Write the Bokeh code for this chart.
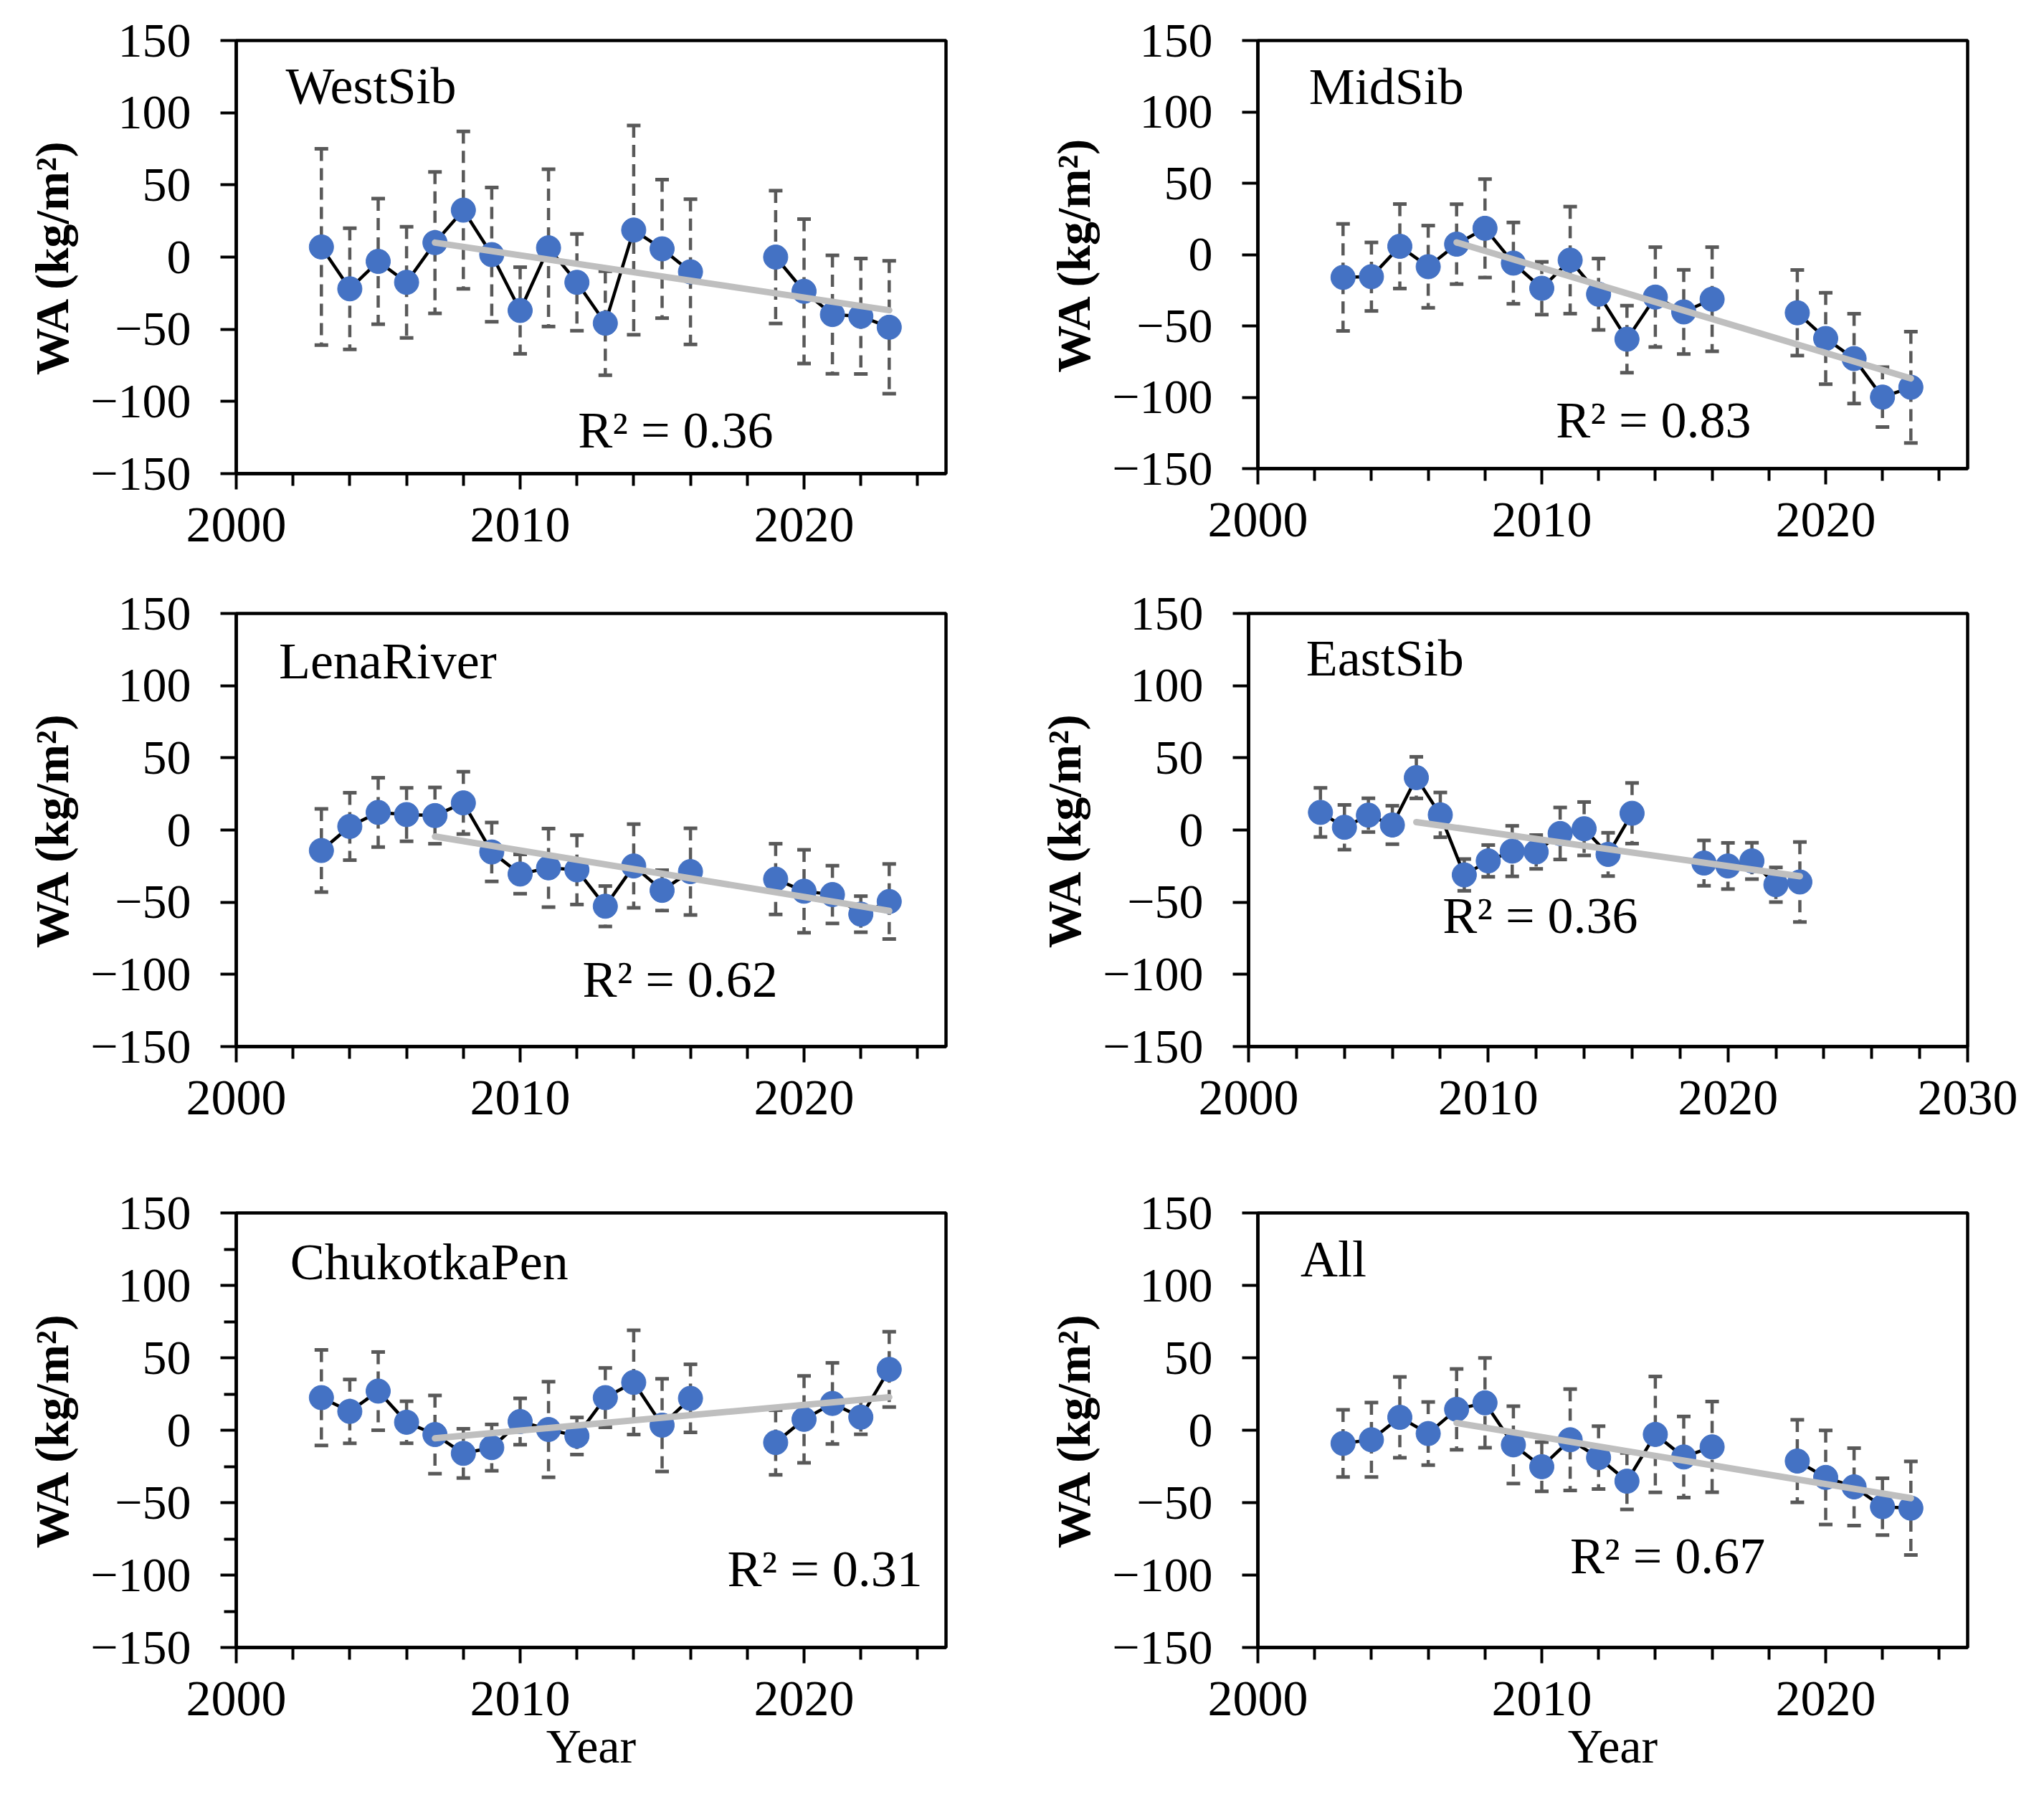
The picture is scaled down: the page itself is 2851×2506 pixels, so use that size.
import numpy as np
from bokeh.plotting import figure
from bokeh.models import Range1d, FixedTicker, Label
from bokeh.layouts import column, row
from bokeh.embed import file_html
from bokeh.resources import INLINE

# ---------------- data ----------------
years = [2003, 2004, 2005, 2006, 2007, 2008, 2009, 2010, 2011, 2012, 2013,
         2014, 2015, 2016, 2019, 2020, 2021, 2022, 2023]
trend_years = [2007, 2023]

westsib_vals = [7, -22, -3, -17.5, 10, 32.5, 1.7, -37, 6.4, -17.5, -45.8,
                18.7, 5.7, -10.2, 0, -23.7, -39.8, -41, -48.6]
westsib_errs = [68, 42, 43.5, 38.5, 49, 54.5, 46.5, 30, 54.5, 33.5, 36,
                72.5, 48, 50.3, 46, 50, 41, 40, 46]
westsib_trend = [10, -36.8]

midsib_vals = [-16, -15.5, 5.8, -8.5, 7.3, 18.4, -6, -23.6, -3.9, -27.8, -59.3,
               -29.8, -40.2, -31.3, -40.8, -58.8, -72.9, -99.9, -93]
midsib_errs = [37.5, 24, 29.6, 28.8, 28, 34.5, 28.5, 18.5, 37.5, 25, 23.5,
               35, 29.5, 36.5, 30, 32, 31.5, 21, 39]
midsib_trend = [8.5, -86.8]

lena_vals = [-14.2, 2.5, 12.2, 10.7, 10, 18.8, -15.2, -30.5, -26.2, -27.6, -52.8,
             -24.9, -41.8, -28.8, -34, -42.4, -44.7, -58.3, -49.5]
lena_errs = [28.8, 23.3, 24, 18.5, 19.5, 21.6, 20.4, 13.6, 27.2, 24, 14,
             29, 14, 30, 24.5, 28.7, 20, 12.5, 26]
lena_trend = [-4.5, -56]

eastsib_vals = [12.2, 1.9, 10.3, 3.5, 36.3, 10.5, -31.1, -21.4, -14.6, -15.2, -2.4,
                0.9, -16.9, 11.6, -22.9, -24.9, -21.4, -37.9, -36]
eastsib_errs = [17, 15.5, 11.7, 13.3, 14.4, 15.5, 11, 11, 17.5, 11.7, 18,
                18.5, 15, 21, 15.7, 16, 12.6, 12, 27.7]
eastsib_trend = [5.5, -32]

chukotka_vals = [22.5, 13, 27, 5.5, -3, -16, -12, 6, 0.5, -4, 22.5,
                 33, 3.5, 22, -8.5, 7.5, 18.5, 9, 42]
chukotka_errs = [33, 22, 27, 14.5, 27, 17, 16, 16, 33, 12.8, 20.5,
                 36, 32, 23.5, 22.3, 30, 28, 11.8, 26]
chukotka_trend = [-5.6, 22.8]

all_vals = [-9.1, -6.6, 8.9, -2.3, 14.4, 18.9, -10.1, -25.2, -6.6, -18.9, -35.2,
            -2.9, -18.5, -11.5, -21.3, -32.6, -39.1, -52.8, -53.8]
all_errs = [23.2, 25.7, 27.9, 21.8, 27.9, 31, 26.7, 17, 35, 21.7, 19.5,
            40, 28, 31.3, 28.5, 32.5, 26.7, 19.6, 32.3]
all_trend = [5, -46.9]

panel_names = ["WestSib", "MidSib", "LenaRiver", "EastSib", "ChukotkaPen", "All"]
r2_texts = ["R\u00b2 = 0.36", "R\u00b2 = 0.83", "R\u00b2 = 0.62",
            "R\u00b2 = 0.36", "R\u00b2 = 0.31", "R\u00b2 = 0.67"]
y_ticks = [-150, -100, -50, 0, 50, 100, 150]
y_minor_ticks = [-125, -75, -25, 25, 75, 125]
y_label = "WA (kg/m\u00b2)"
x_label = "Year"

# ---------------- style ----------------
FONT = "Liberation Serif"
BLUE = "#4472C4"
ERR = "#595959"
TREND = "#BFBFBF"


def make_panel(name, vals, errs, trend, r2, r2_pos, title_pos, geom,
               xmax=2025, with_xlabel=False, minor_y=False):
    bl, fw, br, bt, fh, bb = geom
    p = figure(frame_width=fw, frame_height=fh,
               min_border_left=bl, min_border_right=br,
               min_border_top=bt, min_border_bottom=bb,
               x_range=Range1d(2000, xmax), y_range=Range1d(-150, 150),
               output_backend="svg", toolbar_location=None, tools="")
    p.grid.visible = False
    p.background_fill_color = "white"
    p.border_fill_color = "white"
    p.outline_line_color = "black"
    p.outline_line_width = 4.5
    p.outline_line_alpha = 1.0

    yrs = np.array(years, dtype=float)
    v = np.array(vals, dtype=float)
    e = np.array(errs, dtype=float)

    # error bars
    p.segment(x0=yrs, y0=v + e, x1=yrs, y1=v - e, line_color=ERR,
              line_width=4.5, line_dash="17 10")
    p.scatter(x=np.r_[yrs, yrs], y=np.r_[v + e, v - e], marker="dash",
              size=19, line_color=ERR, line_width=5)

    # connecting line (broken at the gap in years)
    breaks = np.where(np.diff(yrs) > 1)[0] + 1
    xs = [list(a) for a in np.split(yrs, breaks)]
    ys = [list(b) for b in np.split(v, breaks)]
    p.multi_line(xs=xs, ys=ys, line_color="black", line_width=4.5)

    # markers
    p.scatter(yrs, v, size=34, fill_color=BLUE, line_color=BLUE)

    # trend line
    p.line(trend_years, trend, line_color=TREND, line_width=9, line_cap="round")

    # texts
    p.add_layout(Label(x=title_pos[0], y=title_pos[1], text=name,
                       text_font=FONT, text_font_size="72px",
                       text_baseline="alphabetic", text_align="left",
                       text_color="black"))
    p.add_layout(Label(x=r2_pos[0], y=r2_pos[1], text=r2,
                       text_font=FONT, text_font_size="72px",
                       text_baseline="alphabetic", text_align="left",
                       text_color="black"))

    # x axis
    majors = list(range(2000, xmax + 1, 10))
    minors = [t for t in range(2002, xmax, 2) if t not in majors]
    xa = p.xaxis[0]
    xa.ticker = FixedTicker(ticks=majors, minor_ticks=minors)
    xa.major_label_overrides = {t: str(t) for t in majors}
    xa.major_label_text_font = FONT
    xa.major_label_text_font_size = "70px"
    xa.major_label_text_color = "black"
    xa.major_label_standoff = 26
    xa.major_tick_in = 0
    xa.major_tick_out = 22
    xa.minor_tick_in = 0
    xa.minor_tick_out = 17
    xa.major_tick_line_width = 4
    xa.minor_tick_line_width = 4
    xa.major_tick_line_color = "black"
    xa.minor_tick_line_color = "black"
    xa.axis_line_width = 4.5
    xa.axis_line_color = "black"
    if with_xlabel:
        xa.axis_label = x_label
        xa.axis_label_text_font = FONT
        xa.axis_label_text_font_size = "68px"
        xa.axis_label_text_font_style = "normal"
        xa.axis_label_text_color = "black"
        xa.axis_label_standoff = 2

    # y axis
    ya = p.yaxis[0]
    ya.ticker = FixedTicker(ticks=y_ticks, minor_ticks=y_minor_ticks if minor_y else [])
    ya.major_label_overrides = {t: (str(t).replace("-", "\u2212")) for t in y_ticks}
    ya.major_label_text_font = FONT
    ya.major_label_text_font_size = "68px"
    ya.major_label_text_color = "black"
    ya.major_label_standoff = 41
    ya.major_tick_in = 0
    ya.major_tick_out = 22
    ya.minor_tick_in = 0
    ya.minor_tick_out = 17 if minor_y else 0
    ya.major_tick_line_width = 4
    ya.minor_tick_line_width = 4
    ya.major_tick_line_color = "black"
    ya.minor_tick_line_color = "black" if minor_y else None
    ya.axis_line_width = 4.5
    ya.axis_line_color = "black"
    ya.axis_label = y_label
    ya.axis_label_text_font = FONT
    ya.axis_label_text_font_size = "66px"
    ya.axis_label_text_font_style = "bold"
    ya.axis_label_text_color = "black"
    ya.axis_label_standoff = 14
    return p


# geometry: (border_left, frame_width, border_right, border_top, frame_height, border_bottom)
p1 = make_panel(panel_names[0], westsib_vals, westsib_errs, westsib_trend, r2_texts[0],
                (2012.04, -119.8), (2001.74, 118.4), (329, 990, 61, 56, 604, 132))
p2 = make_panel(panel_names[1], midsib_vals, midsib_errs, midsib_trend, r2_texts[1],
                (2010.5, -116.2), (2001.8, 117.4), (374, 990, 91, 56, 597, 139))
p3 = make_panel(panel_names[2], lena_vals, lena_errs, lena_trend, r2_texts[2],
                (2012.2, -103.5), (2001.5, 117.0), (329, 990, 61, 63, 604, 163))
p4 = make_panel(panel_names[3], eastsib_vals, eastsib_errs, eastsib_trend, r2_texts[3],
                (2008.1, -59.6), (2002.4, 119.0), (361, 1003, 91, 63, 604, 163), xmax=2030)
p5 = make_panel(panel_names[4], chukotka_vals, chukotka_errs, chukotka_trend, r2_texts[4],
                (2017.3, -96.0), (2001.9, 116.0), (329, 990, 61, 69, 606, 193),
                with_xlabel=True, minor_y=True)
p6 = make_panel(panel_names[5], all_vals, all_errs, all_trend, r2_texts[5],
                (2011.0, -87.0), (2001.5, 118.0), (374, 990, 91, 69, 606, 193),
                with_xlabel=True)

layout = column(row(p1, p2), row(p3, p4), row(p5, p6))

with open("out.html", "w") as f:
    f.write(file_html(layout, INLINE))
